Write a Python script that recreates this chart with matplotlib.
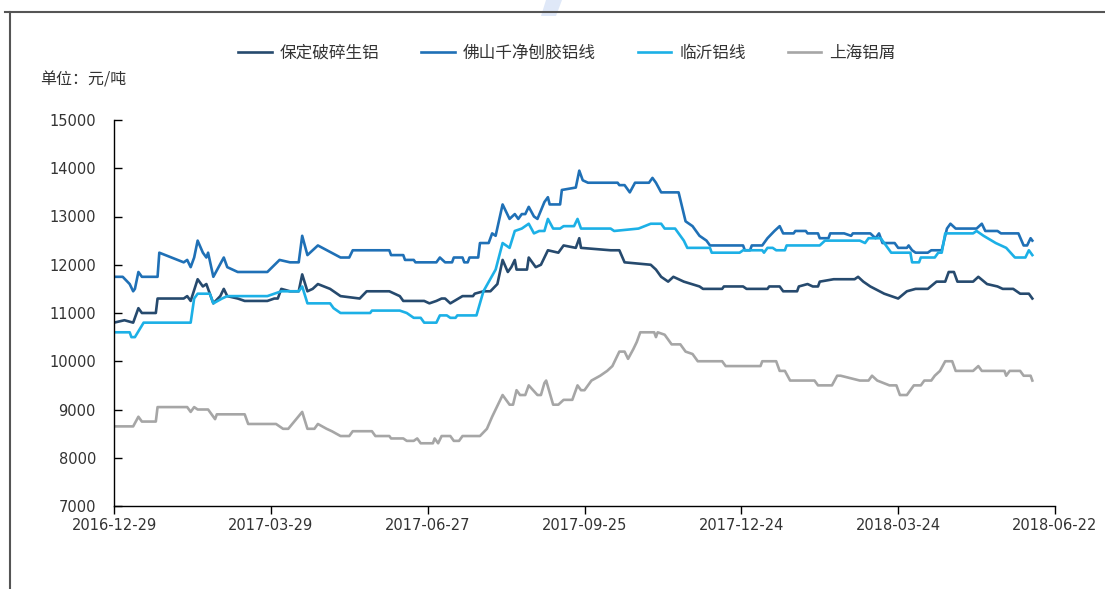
import matplotlib
matplotlib.use('Agg')
import matplotlib.pyplot as plt
import matplotlib.dates as mdates
from matplotlib.lines import Line2D
from matplotlib.patches import Polygon
import pandas as pd

plt.rcParams['font.family'] = ['Noto Sans CJK SC', 'DejaVu Sans']

start = pd.Timestamp('2016-12-29')
tick_days = [0, 90, 180, 270, 360, 450, 540]

# days since 2016-12-29, price (元/吨)
bd_days = [0, 6, 11, 14, 16, 24, 25, 40, 42, 44, 48, 51, 53, 57, 61, 63, 65, 71, 75, 88, 92, 94, 96, 101, 106,
           108, 111, 114, 117, 124, 130, 141, 145, 158, 164, 166, 178, 181, 185, 188, 190, 193, 200, 206, 207,
           212, 216, 220, 223, 226, 228, 230, 231, 237, 238, 242, 245, 249, 255, 258, 265, 267, 268, 285, 290,
           293, 308, 311, 314, 318, 321, 327, 336, 338, 349, 350, 361, 363, 375, 376, 382, 384, 392, 393, 398,
           401, 404, 405, 413, 425, 427, 430, 434, 442, 450, 455, 460, 467, 472, 477, 479, 482, 484, 493, 496,
           501, 507, 510, 516, 520, 525, 527]
bd_vals = [10800, 10850, 10800, 11100, 11000, 11000, 11300, 11300, 11350, 11250, 11700, 11550, 11600, 11200,
           11350, 11500, 11350, 11300, 11250, 11250, 11300, 11300, 11500, 11450, 11450, 11800, 11450, 11500,
           11600, 11500, 11350, 11300, 11450, 11450, 11350, 11250, 11250, 11200, 11250, 11300, 11300, 11200,
           11350, 11350, 11400, 11450, 11450, 11600, 12100, 11850, 11950, 12100, 11900, 11900, 12150, 11950,
           12000, 12300, 12250, 12400, 12350, 12550, 12350, 12300, 12300, 12050, 12000, 11900, 11750, 11650,
           11750, 11650, 11550, 11500, 11500, 11550, 11550, 11500, 11500, 11550, 11550, 11450, 11450, 11550,
           11600, 11550, 11550, 11650, 11700, 11700, 11750, 11650, 11550, 11400, 11300, 11450, 11500, 11500,
           11650, 11650, 11850, 11850, 11650, 11650, 11750, 11600, 11550, 11500, 11500, 11400, 11400, 11300]

fs_days = [0, 5, 9, 11, 12, 14, 16, 25, 26, 40, 42, 44, 46, 48, 51, 53, 54, 57, 63, 65, 71, 88, 95, 101, 106,
           108, 111, 117, 130, 135, 137, 158, 159, 166, 167, 172, 173, 181, 185, 187, 190, 194, 195, 200, 201,
           203, 204, 209, 210, 215, 217, 219, 223, 227, 230, 232, 234, 236, 238, 241, 243, 247, 249, 250, 256,
           257, 265, 267, 269, 272, 289, 290, 293, 296, 299, 307, 309, 311, 314, 324, 328, 332, 336, 340, 342,
           361, 362, 365, 366, 372, 375, 379, 382, 384, 390, 391, 397, 398, 404, 405, 410, 411, 419, 423, 424,
           434, 437, 439, 441, 448, 450, 455, 456, 458, 460, 467, 469, 475, 478, 480, 483, 495, 498, 500, 507,
           509, 519, 522, 524, 526, 527]
fs_vals = [11750, 11750, 11600, 11450, 11500, 11850, 11750, 11750, 12250, 12050, 12100, 11950, 12150, 12500,
           12250, 12150, 12250, 11750, 12150, 11950, 11850, 11850, 12100, 12050, 12050, 12600, 12200, 12400,
           12150, 12150, 12300, 12300, 12200, 12200, 12100, 12100, 12050, 12050, 12050, 12150, 12050, 12050,
           12150, 12150, 12050, 12050, 12150, 12150, 12450, 12450, 12650, 12600, 13250, 12950, 13050, 12950,
           13050, 13050, 13200, 13000, 12950, 13300, 13400, 13250, 13250, 13550, 13600, 13950, 13750, 13700,
           13700, 13650, 13650, 13500, 13700, 13700, 13800, 13700, 13500, 13500, 12900, 12800, 12600, 12500,
           12400, 12400, 12300, 12300, 12400, 12400, 12550, 12700, 12800, 12650, 12650, 12700, 12700, 12650,
           12650, 12550, 12550, 12650, 12650, 12600, 12650, 12650, 12550, 12650, 12450, 12450, 12350, 12350,
           12400, 12300, 12250, 12250, 12300, 12300, 12750, 12850, 12750, 12750, 12850, 12700, 12700, 12650,
           12650, 12400, 12400, 12550, 12500]

ly_days = [0, 9, 10, 12, 17, 44, 46, 48, 55, 57, 62, 65, 88, 96, 106, 108, 111, 124, 126, 130, 147, 148, 164,
           168, 172, 176, 178, 185, 187, 191, 193, 196, 197, 208, 212, 219, 223, 227, 230, 234, 238, 241, 244,
           247, 249, 252, 256, 258, 264, 266, 268, 285, 287, 301, 308, 314, 316, 322, 324, 327, 329, 342, 343,
           359, 361, 372, 373, 375, 378, 380, 385, 386, 405, 408, 428, 431, 433, 440, 442, 446, 457, 458, 462,
           463, 471, 473, 475, 477, 493, 495, 499, 506, 512, 517, 523, 525, 527]
ly_vals = [10600, 10600, 10500, 10500, 10800, 10800, 11300, 11400, 11400, 11200, 11300, 11350, 11350, 11450,
           11450, 11550, 11200, 11200, 11100, 11000, 11000, 11050, 11050, 11000, 10900, 10900, 10800, 10800,
           10950, 10950, 10900, 10900, 10950, 10950, 11450, 11900, 12450, 12350, 12700, 12750, 12850, 12650,
           12700, 12700, 12950, 12750, 12750, 12800, 12800, 12950, 12750, 12750, 12700, 12750, 12850, 12850,
           12750, 12750, 12650, 12500, 12350, 12350, 12250, 12250, 12300, 12300, 12250, 12350, 12350, 12300,
           12300, 12400, 12400, 12500, 12500, 12450, 12550, 12550, 12450, 12250, 12250, 12050, 12050, 12150,
           12150, 12250, 12250, 12650, 12650, 12700, 12600, 12450, 12350, 12150, 12150, 12300, 12200]

sh_days = [0, 11, 14, 16, 24, 25, 42, 44, 46, 48, 54, 58, 59, 75, 77, 93, 97, 100, 108, 111, 115, 117, 122,
           125, 130, 135, 137, 148, 150, 158, 159, 166, 168, 172, 174, 176, 183, 184, 186, 188, 193, 195, 198,
           200, 210, 214, 217, 223, 227, 229, 231, 233, 236, 238, 243, 245, 247, 248, 252, 255, 258, 263, 266,
           268, 270, 272, 274, 279, 283, 286, 290, 293, 295, 298, 300, 302, 310, 311, 312, 316, 320, 325, 328,
           332, 335, 349, 351, 371, 372, 380, 382, 385, 388, 402, 404, 412, 415, 417, 428, 433, 435, 438, 445,
           449, 451, 455, 457, 459, 463, 465, 469, 471, 474, 477, 481, 483, 493, 496, 498, 511, 512, 514, 520,
           522, 526, 527]
sh_vals = [8650, 8650, 8850, 8750, 8750, 9050, 9050, 8950, 9050, 9000, 9000, 8800, 8900, 8900, 8700, 8700, 8600,
           8600, 8950, 8600, 8600, 8700, 8600, 8550, 8450, 8450, 8550, 8550, 8450, 8450, 8400, 8400, 8350, 8350,
           8400, 8300, 8300, 8400, 8300, 8450, 8450, 8350, 8350, 8450, 8450, 8600, 8850, 9300, 9100, 9100, 9400,
           9300, 9300, 9500, 9300, 9300, 9550, 9600, 9100, 9100, 9200, 9200, 9500, 9400, 9400, 9500, 9600, 9700,
           9800, 9900, 10200, 10200, 10050, 10250, 10400, 10600, 10600, 10500, 10600, 10550, 10350, 10350, 10200,
           10150, 10000, 10000, 9900, 9900, 10000, 10000, 9800, 9800, 9600, 9600, 9500, 9500, 9700, 9700, 9600,
           9600, 9700, 9600, 9500, 9500, 9300, 9300, 9400, 9500, 9500, 9600, 9600, 9700, 9800, 10000, 10000,
           9800, 9800, 9900, 9800, 9800, 9700, 9800, 9800, 9700, 9700, 9600]

names = ['保定破碎生铝', '佛山千净刨胶铝线', '临沂铝线', '上海铝屑']
colors = ['#264a6e', '#1f70b6', '#1cb0e6', '#a6a6a6']


def to_dates(days):
    return start + pd.to_timedelta(days, unit='D')


fig = plt.figure(figsize=(11.05, 5.89), dpi=100)
ax = fig.add_axes([114 / 1105, 83 / 589, 941 / 1105, 386 / 589])

series = [(bd_days, bd_vals), (fs_days, fs_vals), (ly_days, ly_vals), (sh_days, sh_vals)]
for (d, v), name, c in zip(series, names, colors):
    ax.plot(to_dates(d), v, color=c, lw=1.9, label=name, solid_joinstyle='round')

ax.set_ylim(7000, 15000)
ax.set_yticks(range(7000, 15001, 1000))
ax.set_xlim(to_dates([0])[0], to_dates([540])[0])
ax.set_xticks(to_dates(tick_days))
ax.xaxis.set_major_formatter(mdates.DateFormatter('%Y-%m-%d'))

for s in ['top', 'right']:
    ax.spines[s].set_visible(False)
for s in ['left', 'bottom']:
    ax.spines[s].set_linewidth(1.0)
    ax.spines[s].set_color('black')

ax.tick_params(axis='y', direction='in', length=6, width=1, pad=13, labelsize=10.5,
               labelcolor='#333333', labelfontfamily='DejaVu Sans')
ax.tick_params(axis='x', direction='out', length=6, width=1, pad=3, labelsize=10.5,
               labelcolor='#333333', labelfontfamily='DejaVu Sans')

fig.legend(loc='center', bbox_to_anchor=(567 / 1105, 1 - 53 / 589), ncol=4, frameon=False,
           fontsize=12, handlelength=2.0, handletextpad=0.5, columnspacing=2.5, labelcolor='#333333')

fig.text(40 / 1105, 1 - 80 / 589, '单位：元/吨', fontsize=11.5, color='#333333', va='center', ha='left')

# outer frame and watermark
fig.add_artist(Line2D([5 / 1105, 1.0], [1 - 12 / 589, 1 - 12 / 589], color='#555555', lw=1.5))
fig.add_artist(Line2D([10 / 1105, 10 / 1105], [0, 1 - 12 / 589], color='#555555', lw=1.5))
fig.add_artist(Polygon([[546 / 1105, 1.0], [562 / 1105, 1.0], [556 / 1105, 1 - 16 / 589], [541 / 1105, 1 - 16 / 589]],
                       closed=True, color='#dfe8f8', lw=0, transform=fig.transFigure, zorder=0))

fig.savefig('out.png', dpi=100)
